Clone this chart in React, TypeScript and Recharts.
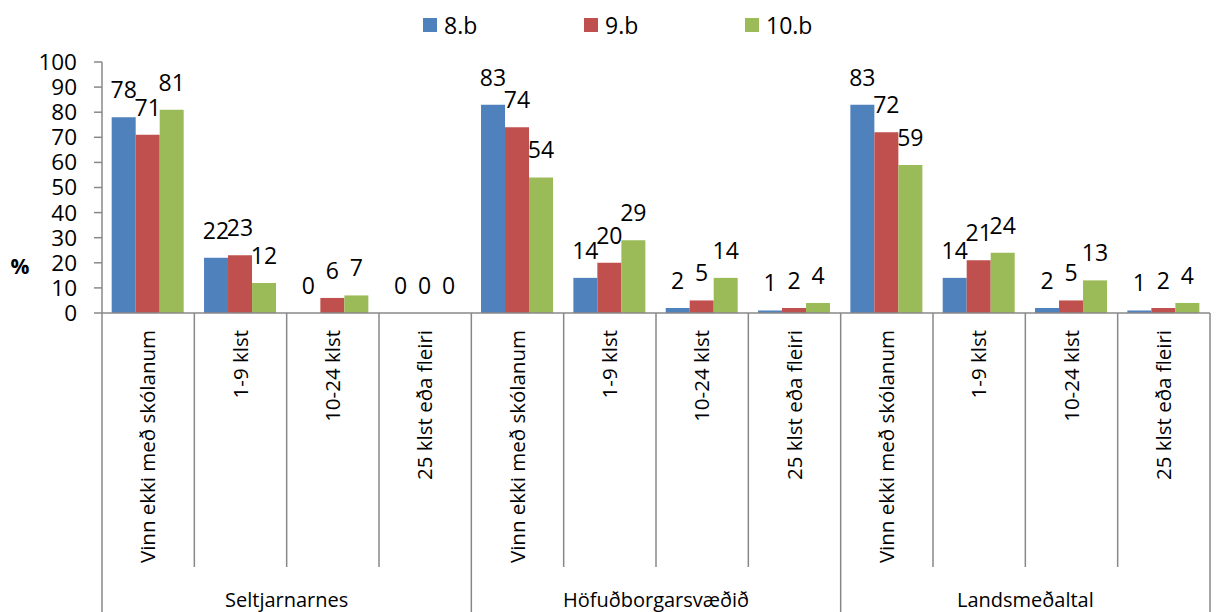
import React from 'react';
import { BarChart, Bar, XAxis, YAxis, Legend, LabelList } from 'recharts';

// categories repeat inside each region group
const categories = [
  'Vinn ekki með skólanum', '1-9 klst', '10-24 klst', '25 klst eða fleiri',
  'Vinn ekki með skólanum', '1-9 klst', '10-24 klst', '25 klst eða fleiri',
  'Vinn ekki með skólanum', '1-9 klst', '10-24 klst', '25 klst eða fleiri',
];
const groups = ['Seltjarnarnes', 'Höfuðborgarsvæðið', 'Landsmeðaltal'];

const grade8 = [78, 22, 0, 0, 83, 14, 2, 1, 83, 14, 2, 1];
const grade9 = [71, 23, 6, 0, 74, 20, 5, 2, 72, 21, 5, 2];
const grade10 = [81, 12, 7, 0, 54, 29, 14, 4, 59, 24, 13, 4];

const seriesNames = ['8.b', '9.b', '10.b'];
const yTicks = [0, 10, 20, 30, 40, 50, 60, 70, 80, 90, 100];

const COLORS = ['#4F81BD', '#C0504D', '#9BBB59'];
const AXIS = '#888888';
const FONT = '"Open Sans", sans-serif';

const data = categories.map((name, i) => ({
  id: `c${i}`,
  name,
  g8: grade8[i],
  g9: grade9[i],
  g10: grade10[i],
}));

function CategoryTick(props: any) {
  const { x, y, index, payload } = props;
  const half = payload && payload.offset ? payload.offset : 46.2;
  const left = x - half;
  const groupStart = index % 4 === 0;
  return (
    <g>
      <line x1={left} y1={y} x2={left} y2={y + (groupStart ? 299 : 254)} stroke={AXIS} strokeWidth={1.5} />
      {index === categories.length - 1 && (
        <line x1={x + half} y1={y} x2={x + half} y2={y + 299} stroke={AXIS} strokeWidth={1.5} />
      )}
      <text
        x={x + 7}
        y={y + 17}
        transform={`rotate(-90 ${x + 7} ${y + 17})`}
        textAnchor="end"
        fontSize={20.5}
        fontFamily={FONT}
        fill="#000"
      >
        {categories[index]}
      </text>
      {index % 4 === 1 && (
        <text x={x + half} y={y + 294} textAnchor="middle" fontSize={20} fontFamily={FONT} fill="#000">
          {groups[Math.floor(index / 4)]}
        </text>
      )}
    </g>
  );
}

const renderValue = (props: any) => {
  const { x, y, width, value } = props;
  return (
    <text x={x + width / 2} y={y - 19} textAnchor="middle" fontSize={23} fontFamily={FONT} fill="#000">
      {String(value)}
    </text>
  );
};

const renderLegend = () => (
  <div style={{ display: 'flex', paddingLeft: 423, fontFamily: FONT, fontSize: 23, lineHeight: '30px' }}>
    {seriesNames.map((n, i) => (
      <div key={n} style={{ width: 161, display: 'flex', alignItems: 'center' }}>
        <span style={{ display: 'inline-block', width: 14, height: 14, background: COLORS[i], marginRight: 7 }} />
        <span>{n}</span>
      </div>
    ))}
  </div>
);

export default function App() {
  const keys = ['g8', 'g9', 'g10'];
  return (
    <div style={{ position: 'absolute', left: 0, top: 0, background: '#fff' }}>
      <BarChart
        width={1216}
        height={612}
        data={data}
        margin={{ top: 62, right: 6, bottom: 0, left: 42 }}
        barCategoryGap="10.5%"
        barGap={0}
      >
        <XAxis
          dataKey="id"
          interval={0}
          height={299}
          tickSize={0}
          tickMargin={0}
          tickLine={false}
          axisLine={{ stroke: AXIS, strokeWidth: 1.5 }}
          tick={<CategoryTick />}
        />
        <YAxis
          width={60}
          domain={[0, 100]}
          ticks={yTicks}
          interval={0}
          tickSize={8}
          tickMargin={17}
          axisLine={{ stroke: AXIS, strokeWidth: 1.5 }}
          tickLine={{ stroke: AXIS, strokeWidth: 1.5 }}
          tick={{ fontSize: 22.5, fontFamily: FONT, fill: '#000' }}
          label={{
            content: () => (
              <text x={20} y={274} textAnchor="middle" fontSize={21} fontWeight="bold" fontFamily={FONT} fill="#000">
                %
              </text>
            ),
          }}
        />
        <Legend
          layout="horizontal"
          verticalAlign="middle"
          align="center"
          wrapperStyle={{ top: 10, left: 0, width: 1216 }}
          content={renderLegend}
        />
        {keys.map((k, i) => (
          <Bar
            key={k}
            dataKey={k}
            name={seriesNames[i]}
            fill={COLORS[i]}
            minPointSize={0.01}
            isAnimationActive={false}
          >
            <LabelList dataKey={k} content={renderValue} />
          </Bar>
        ))}
      </BarChart>
    </div>
  );
}
